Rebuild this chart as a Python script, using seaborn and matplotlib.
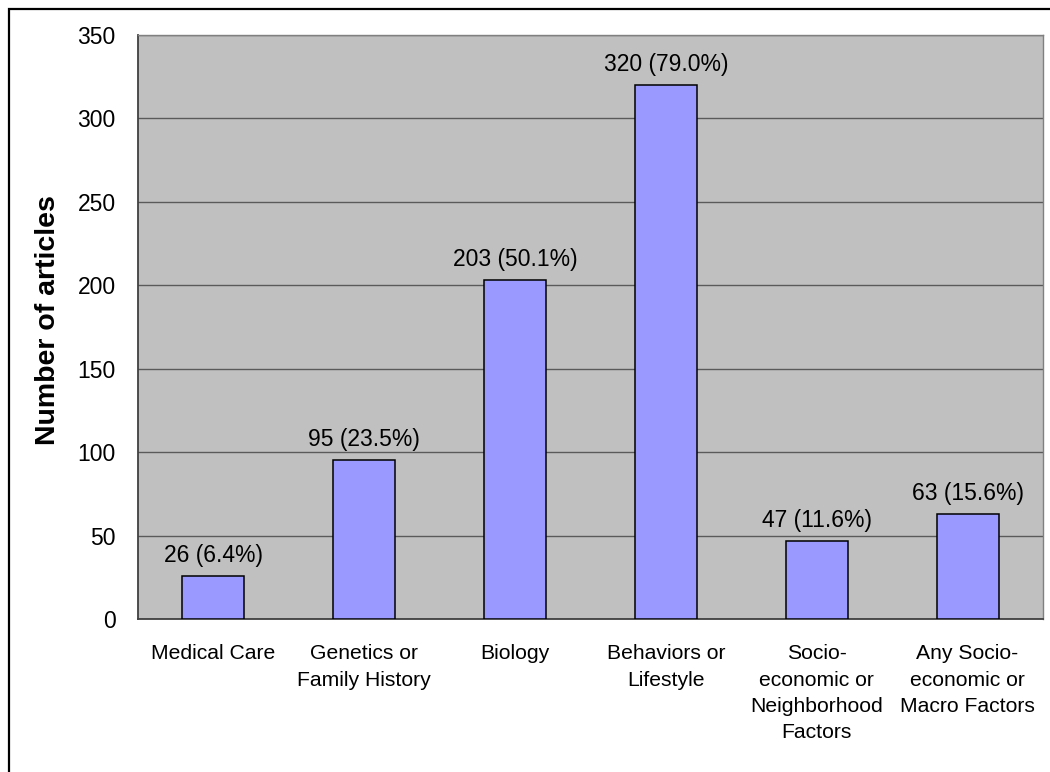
import matplotlib
matplotlib.use("Agg")
import matplotlib.pyplot as plt
from matplotlib.patches import Rectangle
import seaborn as sns
import pandas as pd
import numpy as np

categories = [
    "Medical Care",
    "Genetics or\nFamily History",
    "Biology",
    "Behaviors or\nLifestyle",
    "Socio-\neconomic or\nNeighborhood\nFactors",
    "Any Socio-\neconomic or\nMacro Factors",
]
counts = [26, 95, 203, 320, 47, 63]
percents = [6.4, 23.5, 50.1, 79.0, 11.6, 15.6]
y_ticks = [0, 50, 100, 150, 200, 250, 300, 350]

sns.set_style("white")
plt.rcParams["font.family"] = ["Liberation Sans", "DejaVu Sans"]
plt.rcParams["text.color"] = "black"
plt.rcParams["xtick.labelcolor"] = "black"
plt.rcParams["ytick.labelcolor"] = "black"
plt.rcParams["axes.labelcolor"] = "black"

df = pd.DataFrame({"category": categories, "count": counts})

fig = plt.figure(figsize=(10.5, 7.72), dpi=100)
ax = fig.add_axes([138 / 1050, 1 - 619 / 772, (1043 - 138) / 1050, (619 - 35) / 772])
ax.set_facecolor("#C0C0C0")

sns.barplot(data=df, x="category", y="count", ax=ax, color="#9999FF",
            saturation=1, width=0.41, edgecolor="black", linewidth=1.1, zorder=3)

ax.set_ylim(0, 350)
ax.set_xlim(-0.5, len(categories) - 0.5)
ax.set_yticks(y_ticks)
ax.yaxis.grid(True, color="#5A5A5A", linewidth=1.0, zorder=1)
ax.set_axisbelow(True)

for i, (c, p) in enumerate(zip(counts, percents)):
    ax.annotate(f"{c} ({p:.1f}%)", xy=(i, c), xytext=(0, 6.5), textcoords="offset points",
                ha="center", va="bottom", fontsize=16.5, color="black")

# category boundaries carry the x tick marks
ax.set_xticks(np.arange(len(categories)))
ax.set_xticklabels(categories, fontsize=15.2, linespacing=1.5)
ax.set_xticks(np.arange(-0.5, len(categories)), minor=True)
ax.tick_params(axis="x", which="major", length=0, pad=18)
ax.tick_params(axis="x", which="minor", length=8, width=1.2, color="#404040", direction="out")
ax.tick_params(axis="y", which="major", length=7, width=1.2, color="#404040", direction="out",
               labelsize=16.5, pad=9)

ax.set_xlabel("")
ax.set_ylabel("Number of articles", fontsize=20.5, fontweight="bold", labelpad=12, y=0.512)

for side in ["left", "bottom"]:
    ax.spines[side].set_color("#404040")
    ax.spines[side].set_linewidth(1.3)
for side in ["top", "right"]:
    ax.spines[side].set_color("#808080")
    ax.spines[side].set_linewidth(1.0)

# outer chart frame
fig.patches.append(Rectangle((8.5 / 1050, -0.05), 1.2, 1 - 8.5 / 772 + 0.05,
                             transform=fig.transFigure, fill=False,
                             edgecolor="black", linewidth=1.6))

fig.savefig("out.png", dpi=100)
